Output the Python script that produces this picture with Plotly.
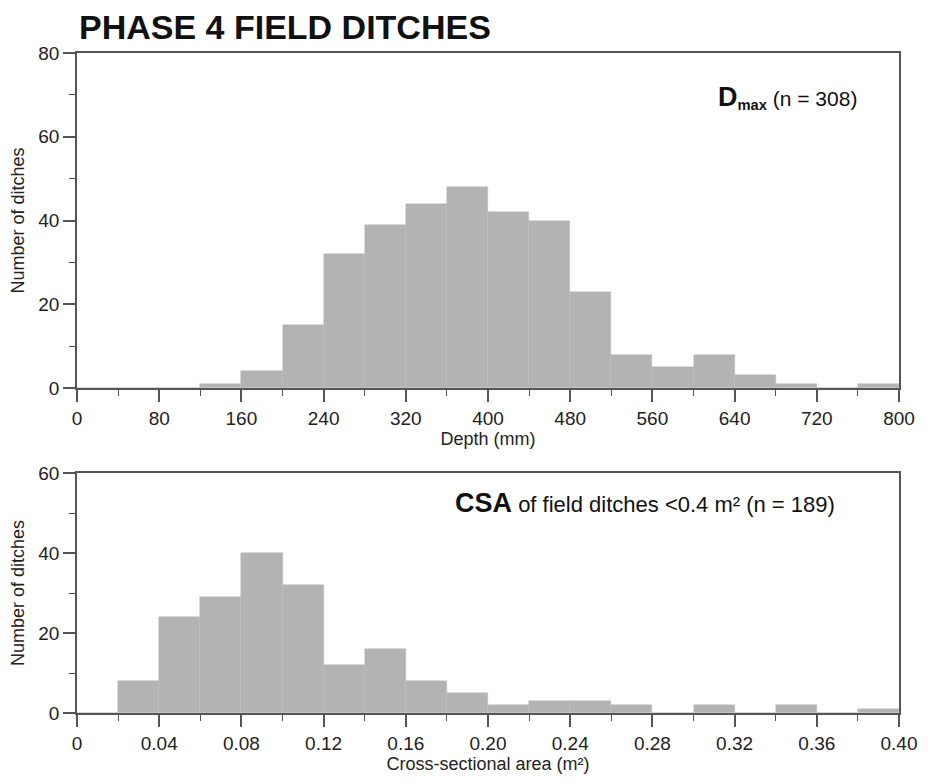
import plotly.graph_objects as go

# depth histogram, 40 mm bins
depth_bins = list(range(0, 800, 40))
depth_counts = [0, 0, 0, 1, 4, 15, 32, 39, 44, 48, 42, 40, 23, 8, 5, 8, 3, 1, 0, 1]

# cross-sectional area histogram, 0.02 m2 bins
csa_bins = [0.00, 0.02, 0.04, 0.06, 0.08, 0.10, 0.12, 0.14, 0.16, 0.18,
            0.20, 0.22, 0.24, 0.26, 0.28, 0.30, 0.32, 0.34, 0.36, 0.38]
csa_counts = [0, 8, 24, 29, 40, 32, 12, 16, 8, 5, 2, 3, 3, 2, 0, 2, 0, 2, 0, 1]

csa_tickvals = [0, 0.04, 0.08, 0.12, 0.16, 0.20, 0.24, 0.28, 0.32, 0.36, 0.40]
csa_ticktext = ["0", "0.04", "0.08", "0.12", "0.16", "0.20", "0.24", "0.28", "0.32", "0.36", "0.40"]

FONT = "Liberation Sans, Arial, sans-serif"
AXIS = "#555555"
BAR = "#b3b3b3"

# page body has an 8px margin; keep the div small enough that no scrollbars appear
W, H = 912, 767

fig = go.Figure()
fig.add_trace(go.Bar(x=depth_bins, y=depth_counts, width=40, offset=0,
                     marker=dict(color=BAR, line=dict(color="#bdbdbd", width=0.5)),
                     xaxis="x", yaxis="y"))
fig.add_trace(go.Bar(x=csa_bins, y=csa_counts, width=0.02, offset=0,
                     marker=dict(color=BAR, line=dict(color="#bdbdbd", width=0.5)),
                     xaxis="x2", yaxis="y2"))

common = dict(showline=True, linecolor=AXIS, linewidth=1.5, mirror=True,
              ticks="outside", tickcolor=AXIS, tickwidth=1.5,
              showgrid=False, zeroline=False, automargin=False,
              ticklabeloverflow="allow",
              tickfont=dict(size=19, color="#222"), title_font=dict(size=18, color="#222"))
xminor = dict(ticks="outside", ticklen=6, tickcolor=AXIS, tickwidth=1.2)
yminor = dict(dtick=10, ticks="outside", ticklen=6, tickcolor=AXIS, tickwidth=1.2)

fig.update_layout(
    width=W, height=H,
    margin=dict(l=69, r=21, t=45, b=62),
    paper_bgcolor="white", plot_bgcolor="white",
    font=dict(family=FONT, color="#222"),
    showlegend=False, bargap=0,
    title=dict(text="<b>PHASE 4 FIELD DITCHES</b>", x=71 / W, xanchor="left",
               y=1 - 19 / H, yanchor="middle", font=dict(size=34, color="#111"),
               automargin=False),
    xaxis=dict(domain=[0, 1], anchor="y", range=[0, 800], tickmode="linear", tick0=0, dtick=80,
               ticklen=12, title=dict(text="Depth (mm)", standoff=2),
               minor=dict(dtick=40, tick0=0, **xminor), **common),
    yaxis=dict(domain=[0.4924, 1], anchor="x", range=[0, 80], tickmode="linear", dtick=20,
               ticklen=12, title=dict(text="Number of ditches", standoff=10),
               minor=yminor, **common),
    xaxis2=dict(domain=[0, 1], anchor="y2", range=[0, 0.40], tickvals=csa_tickvals,
                ticktext=csa_ticktext, ticklen=12,
                title=dict(text="Cross-sectional area (m²)", standoff=3),
                minor=dict(dtick=0.02, tick0=0, **xminor), **common),
    yaxis2=dict(domain=[0, 0.3636], anchor="x2", range=[0, 60], tickmode="linear", dtick=20,
                ticklen=12, title=dict(text="Number of ditches", standoff=10),
                minor=yminor, **common),
)

fig.add_annotation(xref="paper", yref="paper", x=0.951, y=0.932, xanchor="right", yanchor="middle",
                   showarrow=False, font=dict(size=21, color="#111"),
                   text="<span style='font-size:27px'><b>D</b></span><sub><b>max</b></sub> (n = 308)")
fig.add_annotation(xref="paper", yref="paper", x=0.9246, y=0.318, xanchor="right", yanchor="middle",
                   showarrow=False, font=dict(size=22, color="#111"),
                   text="<span style='font-size:27px'><b>CSA</b></span> of field ditches &lt;0.4 m² (n = 189)")

fig.write_html("out.html")
